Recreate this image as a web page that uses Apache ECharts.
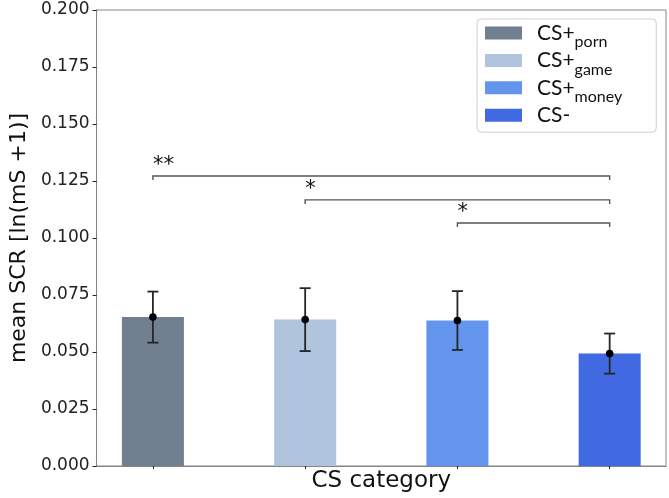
<!DOCTYPE html>
<html>
<head>
<meta charset="utf-8">
<script src="https://cdn.jsdelivr.net/npm/echarts@6/dist/echarts.min.js"></script>
<style>html,body{margin:0;padding:0;background:#fff;}#c{width:669px;height:498px;}</style>
</head>
<body>
<div id="c"></div>
<script>
// ---- data ----
var categories = ['CS+porn', 'CS+game', 'CS+money', 'CS-'];
var legendMain = ['CS+', 'CS+', 'CS+', 'CS-'];
var legendSub = ['porn', 'game', 'money', ' '];
var positions = [0, 1, 2, 3];
var means = [0.0653, 0.0642, 0.0638, 0.0493];
var sems = [0.0112, 0.0138, 0.0129, 0.0088];
var colors = ['#708090', '#B0C4DE', '#6495ED', '#4169E1'];
// significance brackets
var bracketFrom = [0, 1, 2];
var bracketTo = [3, 3, 3];
var bracketY = [0.1272, 0.1167, 0.1066];
var bracketLabel = ['**', '*', '*'];

var chart = echarts.init(document.getElementById('c'));
var spine = '#858585';
var tickFont = 'DejaVu Sans';

var barSeries = categories.map(function (name, i) {
  return {
    name: name,
    type: 'bar',
    barWidth: 62,
    barGap: '-100%',
    itemStyle: { color: colors[i] },
    data: [[positions[i], means[i]]],
    z: 2
  };
});

var errData = positions.map(function (p, i) { return [p, means[i], sems[i]]; });
var brData = bracketFrom.map(function (f, i) { return [f, bracketTo[i], bracketY[i], bracketLabel[i]]; });

var option = {
  backgroundColor: '#fff',
  animation: false,
  grid: { left: 88, right: 3, top: 10, bottom: 29, show: true, borderColor: spine, borderWidth: 1 },
  legend: {
    data: categories,
    orient: 'vertical',
    left: 477, top: 19,
    padding: [-3, 34, 0, 8],
    itemWidth: 37, itemHeight: 13,
    itemGap: -6.6,
    icon: 'rect',
    borderColor: '#d0d0d0', borderWidth: 1, borderRadius: 4,
    backgroundColor: 'rgba(255,255,255,0.85)',
    formatter: function (name) {
      var i = categories.indexOf(name);
      return '{a|' + legendMain[i] + '}{s|' + legendSub[i] + '}';
    },
    textStyle: {
      rich: {
        a: { fontFamily: 'Lato', fontSize: 21, color: '#111', padding: [0, 0, 0, 10], verticalAlign: 'middle', lineHeight: 21 },
        s: { fontFamily: 'Lato', fontSize: 16, color: '#111', padding: [18, 0, 0, 0], verticalAlign: 'middle', lineHeight: 6 }
      }
    }
  },
  xAxis: {
    type: 'value', min: -0.37, max: 3.37,
    name: 'CS category', nameLocation: 'middle', nameGap: 4,
    nameTextStyle: { fontFamily: tickFont, fontSize: 23, color: '#111' },
    axisLine: { show: true, onZero: false, lineStyle: { color: spine, width: 1 } },
    axisTick: { show: true, customValues: positions, length: 3, lineStyle: { color: '#222' } },
    axisLabel: { show: false },
    splitLine: { show: false }
  },
  yAxis: {
    type: 'value', min: 0, max: 0.2, interval: 0.025,
    name: 'mean SCR [ln(mS +1)]', nameLocation: 'middle', nameGap: 57,
    nameTextStyle: { fontFamily: tickFont, fontSize: 22, color: '#111' },
    axisLine: { show: true, onZero: false, lineStyle: { color: spine, width: 1 } },
    axisTick: { show: true, length: 4, lineStyle: { color: '#222' } },
    axisLabel: { fontFamily: tickFont, fontSize: 17, color: '#222', margin: 7,
      formatter: function (v) { return v.toFixed(3); } },
    splitLine: { show: false }
  },
  series: barSeries.concat([
    {
      type: 'custom', name: 'err', z: 5,
      data: errData,
      renderItem: function (params, api) {
        var x = api.value(0), m = api.value(1), e = api.value(2);
        var top = api.coord([x, m + e]);
        var bot = api.coord([x, m - e]);
        var mid = api.coord([x, m]);
        var hw = 5.5;
        var st = { stroke: '#262626', lineWidth: 1.8 };
        return { type: 'group', children: [
          { type: 'line', shape: { x1: top[0], y1: top[1], x2: bot[0], y2: bot[1] }, style: st },
          { type: 'line', shape: { x1: top[0] - hw, y1: top[1], x2: top[0] + hw, y2: top[1] }, style: st },
          { type: 'line', shape: { x1: bot[0] - hw, y1: bot[1], x2: bot[0] + hw, y2: bot[1] }, style: st },
          { type: 'circle', shape: { cx: mid[0], cy: mid[1], r: 3.8 }, style: { fill: '#000' } }
        ] };
      }
    },
    {
      type: 'custom', name: 'sig', z: 5,
      data: brData,
      renderItem: function (params, api) {
        var a = api.coord([api.value(0), api.value(2)]);
        var b = api.coord([api.value(1), api.value(2)]);
        var h = 4;
        var lbl = brData[params.dataIndex][3];
        return { type: 'group', children: [
          { type: 'polyline', shape: { points: [[a[0], a[1] + h], [a[0], a[1]], [b[0], a[1]], [b[0], a[1] + h]] },
            style: { stroke: '#555', lineWidth: 1.4, fill: null } },
          { type: 'text', x: a[0], y: a[1] - 10,
            style: { text: lbl, fontFamily: tickFont, fontSize: 21, fill: '#111', align: 'left', verticalAlign: 'middle' } }
        ] };
      }
    }
  ])
};
chart.setOption(option);
</script>
</body>
</html>
